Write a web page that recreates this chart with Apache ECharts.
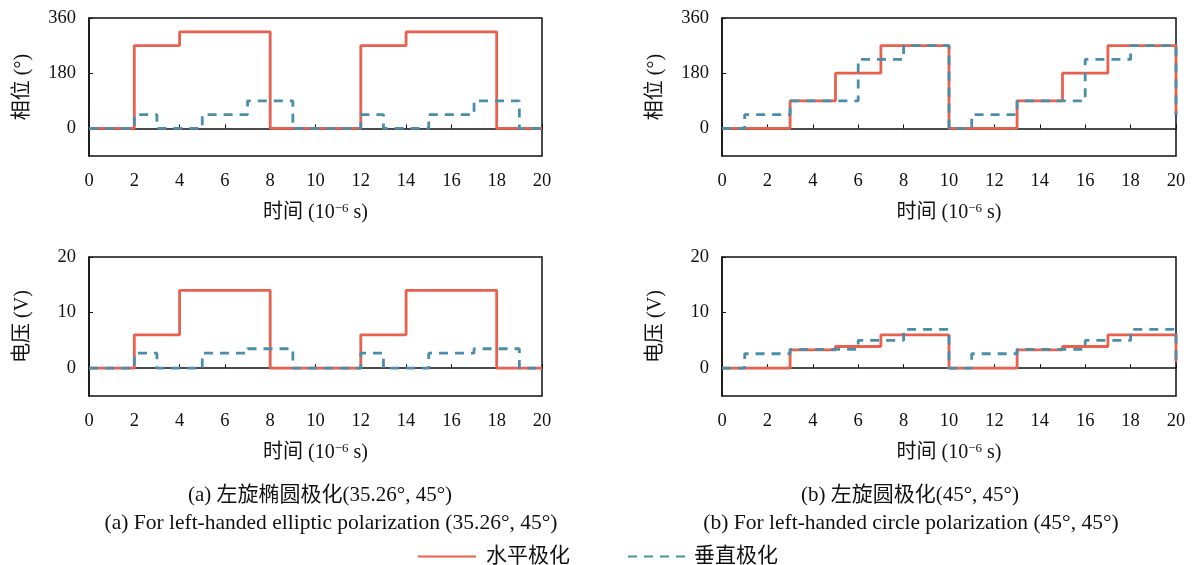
<!DOCTYPE html>
<html>
<head>
<meta charset="utf-8">
<script src="https://cdn.jsdelivr.net/npm/echarts@6/dist/echarts.min.js"></script>
<style>
html, body { margin: 0; padding: 0; background: #fff; }
#chart { width: 1192px; height: 565px; }
</style>
</head>
<body>
<div id="chart"></div>
<script>
// (a) left-handed elliptic polarization: step change times and values
var timeA_h = [0, 2, 4, 8, 12, 14, 18, 20];
var phaseA_h = [0, 270, 315, 0, 270, 315, 0, 0];
var voltA_h = [0, 6, 14, 0, 6, 14, 0, 0];
var timeA_v = [0, 2, 3, 5, 7, 9, 12, 13, 15, 17, 19, 20];
var phaseA_v = [0, 45, 0, 45, 90, 0, 45, 0, 45, 90, 0, 0];
var voltA_v = [0, 2.7, 0, 2.7, 3.5, 0, 2.7, 0, 2.7, 3.5, 0, 0];

// (b) left-handed circle polarization
var timeB_h = [0, 3, 5, 7, 10, 13, 15, 17, 20];
var phaseB_h = [0, 90, 180, 270, 0, 90, 180, 270, 45];
var voltB_h = [0, 3.3, 3.9, 6, 0, 3.3, 3.9, 6, 1.2];
var timeB_v = [0, 1, 3, 6, 8, 10, 11, 13, 16, 18, 20];
var phaseB_v = [0, 45, 90, 225, 270, 0, 45, 90, 225, 270, 45];
var voltB_v = [0, 2.6, 3.4, 5, 7, 0, 2.6, 3.4, 5, 7, 1.2];

var phaseTicks = [0, 180, 360];
var voltTicks = [0, 10, 20];

var seriesNames = ['水平极化', '垂直极化'];
var captions = [
	'(a) 左旋椭圆极化(35.26°, 45°)',
	'(a) For left-handed elliptic polarization (35.26°, 45°)',
	'(b) 左旋圆极化(45°, 45°)',
	'(b) For left-handed circle polarization (45°, 45°)'
];

var RED = '#E8614F';
var BLUE = '#4B8DAB';
var FONT = "'Liberation Serif', 'Noto Sans CJK SC', serif";

function pairs(t, v) {
	return t.map(function(x, i) { return [x, v[i]]; });
}

function makeX(idx) {
	return {
		type: 'value', gridIndex: idx, min: 0, max: 20, interval: 2,
		name: '时间 (10{sup|−6} s)', nameLocation: 'middle', nameGap: 46,
		nameTextStyle: {
			fontFamily: FONT, fontSize: 20, color: '#111',
			rich: { sup: { fontSize: 13, verticalAlign: 'top', padding: [0, 0, 9, 0], fontFamily: FONT, color: '#111' } }
		},
		axisLine: { lineStyle: { color: '#111', width: 1.5 } },
		axisTick: { inside: true, length: 4, lineStyle: { color: '#111' } },
		axisLabel: { fontFamily: FONT, fontSize: 18.5, color: '#111', margin: 16 },
		splitLine: { show: false }
	};
}

function makeY(idx, name, min, max, ticks) {
	return {
		type: 'value', gridIndex: idx, min: min, max: max,
		name: name, nameLocation: 'middle', nameGap: 56,
		nameTextStyle: { fontFamily: FONT, fontSize: 20, color: '#111' },
		axisLine: { lineStyle: { color: '#111', width: 1.5 } },
		axisTick: { inside: true, length: 4, customValues: ticks, lineStyle: { color: '#111' } },
		axisLabel: { fontFamily: FONT, fontSize: 18.5, color: '#111', margin: 13, customValues: ticks },
		splitLine: { show: false }
	};
}

function makeSeries(idx, name, data) {
	var isH = name === seriesNames[0];
	return {
		type: 'line', name: name, xAxisIndex: idx, yAxisIndex: idx,
		step: 'end', symbol: 'none', data: data, z: isH ? 2 : 3,
		lineStyle: { color: isH ? RED : BLUE, width: 2.8, type: isH ? 'solid' : [9, 7] },
		itemStyle: { color: isH ? RED : BLUE }
	};
}

function caption(text, x, y, size) {
	return { text: text, left: x, top: y, textAlign: 'center',
		textStyle: { fontFamily: FONT, fontSize: size, fontWeight: 'normal', color: '#111' } };
}

function legendItem(name, x, pad) {
	return {
		left: x, top: 541, itemWidth: 58, itemHeight: 12,
		data: [name],
		itemStyle: { color: 'transparent', borderWidth: 0, opacity: 0 },
		textStyle: { fontFamily: FONT, fontSize: 21, color: '#111', padding: [0, 0, 0, pad] }
	};
}

var chart = echarts.init(document.getElementById('chart'));
var grids = [
	{ left: 89, top: 18, width: 453, height: 138 },
	{ left: 722, top: 18, width: 454, height: 138 },
	{ left: 89, top: 257, width: 453, height: 139 },
	{ left: 722, top: 257, width: 454, height: 139 }
];
grids.forEach(function(g) {
	g.show = true; g.borderColor = '#111'; g.borderWidth = 1.5; g.backgroundColor = 'transparent';
});

var option = {
	animation: false,
	backgroundColor: '#fff',
	grid: grids,
	xAxis: [makeX(0), makeX(1), makeX(2), makeX(3)],
	yAxis: [
		makeY(0, '相位 (°)', -90, 360, phaseTicks),
		makeY(1, '相位 (°)', -90, 360, phaseTicks),
		makeY(2, '电压 (V)', -5, 20, voltTicks),
		makeY(3, '电压 (V)', -5, 20, voltTicks)
	],
	legend: [legendItem(seriesNames[0], 412, 5), legendItem(seriesNames[1], 622, 3)],
	title: [
		caption(captions[0], 315, 480, 21),
		caption(captions[1], 326, 508, 21.5),
		caption(captions[2], 905, 480, 21),
		caption(captions[3], 906, 508, 21.5)
	],
	series: [
		makeSeries(0, seriesNames[0], pairs(timeA_h, phaseA_h)),
		makeSeries(0, seriesNames[1], pairs(timeA_v, phaseA_v)),
		makeSeries(1, seriesNames[0], pairs(timeB_h, phaseB_h)),
		makeSeries(1, seriesNames[1], pairs(timeB_v, phaseB_v)),
		makeSeries(2, seriesNames[0], pairs(timeA_h, voltA_h)),
		makeSeries(2, seriesNames[1], pairs(timeA_v, voltA_v)),
		makeSeries(3, seriesNames[0], pairs(timeB_h, voltB_h)),
		makeSeries(3, seriesNames[1], pairs(timeB_v, voltB_v))
	]
};
chart.setOption(option);
</script>
</body>
</html>
